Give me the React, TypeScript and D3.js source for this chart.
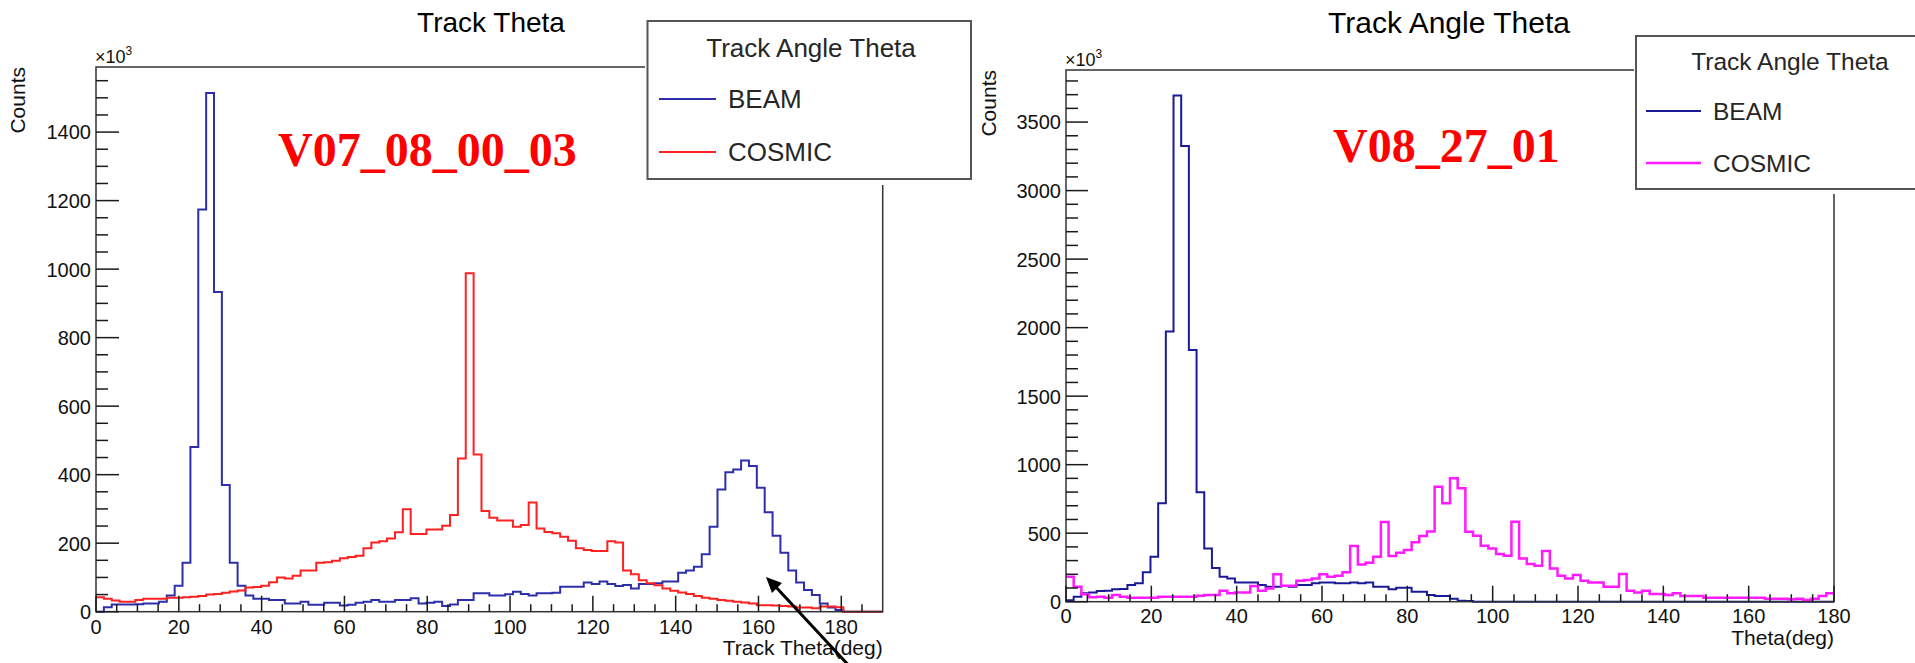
import React from 'react';
import * as d3 from 'd3';

// ---------- data (bin contents) ----------
// Left panel: 100 bins over [0,190]
const leftBins = 100;
const leftRange = [0, 190];
const leftBeam = [0,13,21,21,21,22,24,24,29,47,76,143,481,1174,1514,933,370,143,76,47,38,38,34,34,24,24,29,20,20,26,26,18,20,26,29,34,29,29,34,34,39,24,26,29,17,21,34,34,54,54,47,47,51,58,52,47,54,54,55,73,73,73,85,81,88,81,75,78,68,81,81,83,88,88,114,120,131,168,248,357,407,415,441,425,362,290,222,172,120,85,63,49,24,12,5,0,0,0,0,0];
const leftCosmic = [42,38,33,29,29,34,38,38,38,41,41,42,44,46,50,52,55,59,62,71,72,76,86,100,97,105,120,120,143,144,149,156,160,163,185,202,206,214,232,299,227,227,240,240,251,282,447,988,459,294,274,266,266,248,253,319,243,233,229,219,207,185,180,177,177,206,202,120,109,92,83,77,68,61,56,52,46,41,38,34,32,29,27,24,19,19,18,17,15,12,12,10,15,15,13,0,0,0,0,0];
// Right panel: 100 bins over [0,180]
const rightBins = 100;
const rightRange = [0, 180];
const rightBeam = [10,36,61,68,78,80,90,92,122,134,214,328,718,1971,3694,3326,1837,798,389,246,182,170,141,141,141,122,109,109,114,109,122,122,134,141,141,134,134,141,134,141,109,109,90,102,102,73,73,49,41,41,22,7,5,0,0,0,0,0,0,0,0,0,0,0,0,0,0,0,0,0,0,0,0,0,0,0,0,0,0,0,0,0,0,0,0,0,0,0,0,0,0,0,0,0,0,0,0,0,0,0];
const rightCosmic = [182,109,54,32,36,29,49,36,29,29,29,29,36,36,36,36,36,44,49,49,80,61,68,68,114,80,97,200,117,117,153,158,170,200,182,190,214,406,272,285,328,582,333,358,377,433,479,513,839,718,900,827,511,482,409,389,348,336,584,316,275,263,370,243,190,170,195,153,141,141,109,109,202,80,68,80,56,56,49,61,41,41,41,29,29,29,29,29,29,29,29,22,22,22,17,22,12,22,41,61];

const xTickValues = [0, 20, 40, 60, 80, 100, 120, 140, 160, 180];
const leftYTicks = [0, 200, 400, 600, 800, 1000, 1200, 1400];
const rightYTicks = [0, 500, 1000, 1500, 2000, 2500, 3000, 3500];

const FONT = '"Liberation Sans", Arial, Helvetica, sans-serif';
const SERIF = '"Liberation Serif", "Times New Roman", serif';

type Series = { values: number[]; color: string; width: number; name: string };

type PanelProps = {
  x0: number; x1: number; yTop: number; yBottom: number;
  xDomain: [number, number]; yDomain: [number, number];
  nBins: number; binRange: number[];
  series: Series[];
  yTicks: number[]; yMinor: number; yMinorMax: number;
  xMinorMax: number;
  yMajLen: number; yMinLen: number;
  title: string; titleX: number; titleY: number; titleSize: number;
  countsX: number; expX: number; expY: number;
  xLabelDy: number;
  xTitle: string; xTitleY: number;
  tag: string; tagX: number; tagY: number;
  legend: { x: number; y: number; w: number; h: number; coverX: number; coverY: number; coverW: number; coverH: number;
    headerX: number; headerY: number; lineX0: number; lineX1: number; rowY: number[]; labelX: number; fontSize: number };
};

function stepPath(values: number[], lo: number, w: number, xs: any, ys: any) {
  const pts: [number, number][] = values.map((v, i) => [lo + i * w, v]);
  pts.push([lo + values.length * w, values[values.length - 1]]);
  return d3.line<[number, number]>().x(d => xs(d[0])).y(d => ys(d[1])).curve(d3.curveStepAfter)(pts) || '';
}

function Panel(p: PanelProps) {
  const xs = d3.scaleLinear().domain(p.xDomain).range([p.x0, p.x1]);
  const ys = d3.scaleLinear().domain(p.yDomain).range([p.yBottom, p.yTop]);
  const w = (p.binRange[1] - p.binRange[0]) / p.nBins;
  const xMinor = d3.range(0, p.xMinorMax + 0.001, 5).filter(v => v % 20 !== 0);
  const yMinor = d3.range(0, p.yMinorMax + 0.001, p.yMinor).filter(v => !p.yTicks.includes(v));
  const ax = '#1a1a1a';
  const L = p.legend;
  return (
    <g>
      {/* histograms */}
      {p.series.map((s, i) => (
        <path key={i} d={stepPath(s.values, p.binRange[0], w, xs, ys)} fill="none" stroke={s.color} strokeWidth={s.width} />
      ))}
      {/* frame */}
      <rect x={p.x0} y={p.yTop} width={p.x1 - p.x0} height={p.yBottom - p.yTop} fill="none" stroke="#333" strokeWidth={1.5} />
      {/* y ticks */}
      {p.yTicks.map(t => (
        <g key={'y' + t}>
          <line x1={p.x0} x2={p.x0 + p.yMajLen} y1={ys(t)} y2={ys(t)} stroke={ax} strokeWidth={1.5} />
          <text x={p.x0 - 5} y={ys(t) + 7.4} textAnchor="end" fontFamily={FONT} fontSize={20} fill="#111">{t}</text>
        </g>
      ))}
      {yMinor.map(t => (
        <line key={'ym' + t} x1={p.x0} x2={p.x0 + p.yMinLen} y1={ys(t)} y2={ys(t)} stroke={ax} strokeWidth={1.5} />
      ))}
      {/* x ticks */}
      {xTickValues.map(t => (
        <g key={'x' + t}>
          <line x1={xs(t)} x2={xs(t)} y1={p.yBottom} y2={p.yBottom - 16} stroke={ax} strokeWidth={1.5} />
          <text x={xs(t)} y={p.yBottom + p.xLabelDy} textAnchor="middle" fontFamily={FONT} fontSize={20} fill="#111">{t}</text>
        </g>
      ))}
      {xMinor.map(t => (
        <line key={'xm' + t} x1={xs(t)} x2={xs(t)} y1={p.yBottom} y2={p.yBottom - 7.5} stroke={ax} strokeWidth={1.5} />
      ))}
      {/* axis titles */}
      <text x={p.x1} y={p.xTitleY} textAnchor="end" fontFamily={FONT} fontSize={21} fill="#111">{p.xTitle}</text>
      <text transform={`translate(${p.countsX},${p.yTop}) rotate(-90)`} textAnchor="end" fontFamily={FONT} fontSize={21} fill="#111">Counts</text>
      <text x={p.expX} y={p.expY} fontFamily={FONT} fontSize={18} fill="#111">
        ×10<tspan fontSize={12} dy={-8}>3</tspan>
      </text>
      {/* title */}
      <text x={p.titleX} y={p.titleY} textAnchor="middle" fontFamily={FONT} fontSize={p.titleSize} fill="#000">{p.title}</text>
      {/* version tag */}
      <text x={p.tagX} y={p.tagY} fontFamily={SERIF} fontWeight="bold" fontSize={48} fill="#ff0000">{p.tag}</text>
      {/* legend */}
      <rect x={L.coverX} y={L.coverY} width={L.coverW} height={L.coverH} fill="#fff" />
      <rect x={L.x} y={L.y} width={L.w} height={L.h} fill="#fff" stroke="#555" strokeWidth={2} />
      <text x={L.headerX} y={L.headerY} textAnchor="middle" fontFamily={FONT} fontSize={L.fontSize} fill="#262626">Track Angle Theta</text>
      {p.series.map((s, i) => (
        <g key={'lg' + i}>
          <line x1={L.lineX0} x2={L.lineX1} y1={L.rowY[i]} y2={L.rowY[i]} stroke={s.color} strokeWidth={s.width} />
          <text x={L.labelX} y={L.rowY[i] + L.fontSize * 0.36} fontFamily={FONT} fontSize={L.fontSize} fill="#262626">{s.name}</text>
        </g>
      ))}
    </g>
  );
}

export default function App() {
  return (
    <svg width={1915} height={663} style={{ position: 'absolute', left: 0, top: 0, background: '#fff' }}>
      <rect x={0} y={0} width={1915} height={663} fill="#fff" />
      <Panel
        x0={96} x1={882.7} yTop={67} yBottom={611.7}
        xDomain={[0, 190]} yDomain={[0, 1590]}
        nBins={leftBins} binRange={leftRange}
        series={[
          { values: leftBeam, color: '#2e2eaa', width: 2, name: 'BEAM' },
          { values: leftCosmic, color: '#ff2020', width: 2, name: 'COSMIC' },
        ]}
        yTicks={leftYTicks} yMinor={50} yMinorMax={1550} xMinorMax={185}
        yMajLen={23} yMinLen={12}
        title="Track Theta" titleX={491} titleY={32} titleSize={28}
        countsX={25} expX={95} expY={63}
        xLabelDy={22.3}
        xTitle="Track Theta(deg)" xTitleY={655}
        tag="V07_08_00_03" tagX={278} tagY={166}
        legend={{ x: 647.5, y: 21, w: 323.5, h: 158, coverX: 645, coverY: 12, coverW: 335, coverH: 173,
          headerX: 811, headerY: 57, lineX0: 659, lineX1: 716, rowY: [99, 152], labelX: 728, fontSize: 26 }}
      />
      <Panel
        x0={1066} x1={1834} yTop={70} yBottom={601.7}
        xDomain={[0, 180]} yDomain={[0, 3880]}
        nBins={rightBins} binRange={rightRange}
        series={[
          { values: rightBeam, color: '#1a1a96', width: 2, name: 'BEAM' },
          { values: rightCosmic, color: '#ff1aff', width: 2.5, name: 'COSMIC' },
        ]}
        yTicks={rightYTicks} yMinor={100} yMinorMax={3800} xMinorMax={175}
        yMajLen={22} yMinLen={12}
        title="Track Angle Theta" titleX={1449} titleY={33} titleSize={30}
        countsX={996} expX={1065} expY={66}
        xLabelDy={21.6}
        xTitle="Theta(deg)" xTitleY={645}
        tag="V08_27_01" tagX={1333} tagY={162}
        legend={{ x: 1636, y: 36, w: 300, h: 153, coverX: 1634, coverY: 28, coverW: 290, coverH: 166,
          headerX: 1790, headerY: 70, lineX0: 1646, lineX1: 1701, rowY: [111, 163], labelX: 1713, fontSize: 24.5 }}
      />
      {/* arrow annotation */}
      <line x1={853} y1={670} x2={774} y2={585} stroke="#000" strokeWidth={3} />
      <path d={d3.line()([[766, 577], [782, 583], [772, 593]]) + 'Z'} fill="#000" />
    </svg>
  );
}
